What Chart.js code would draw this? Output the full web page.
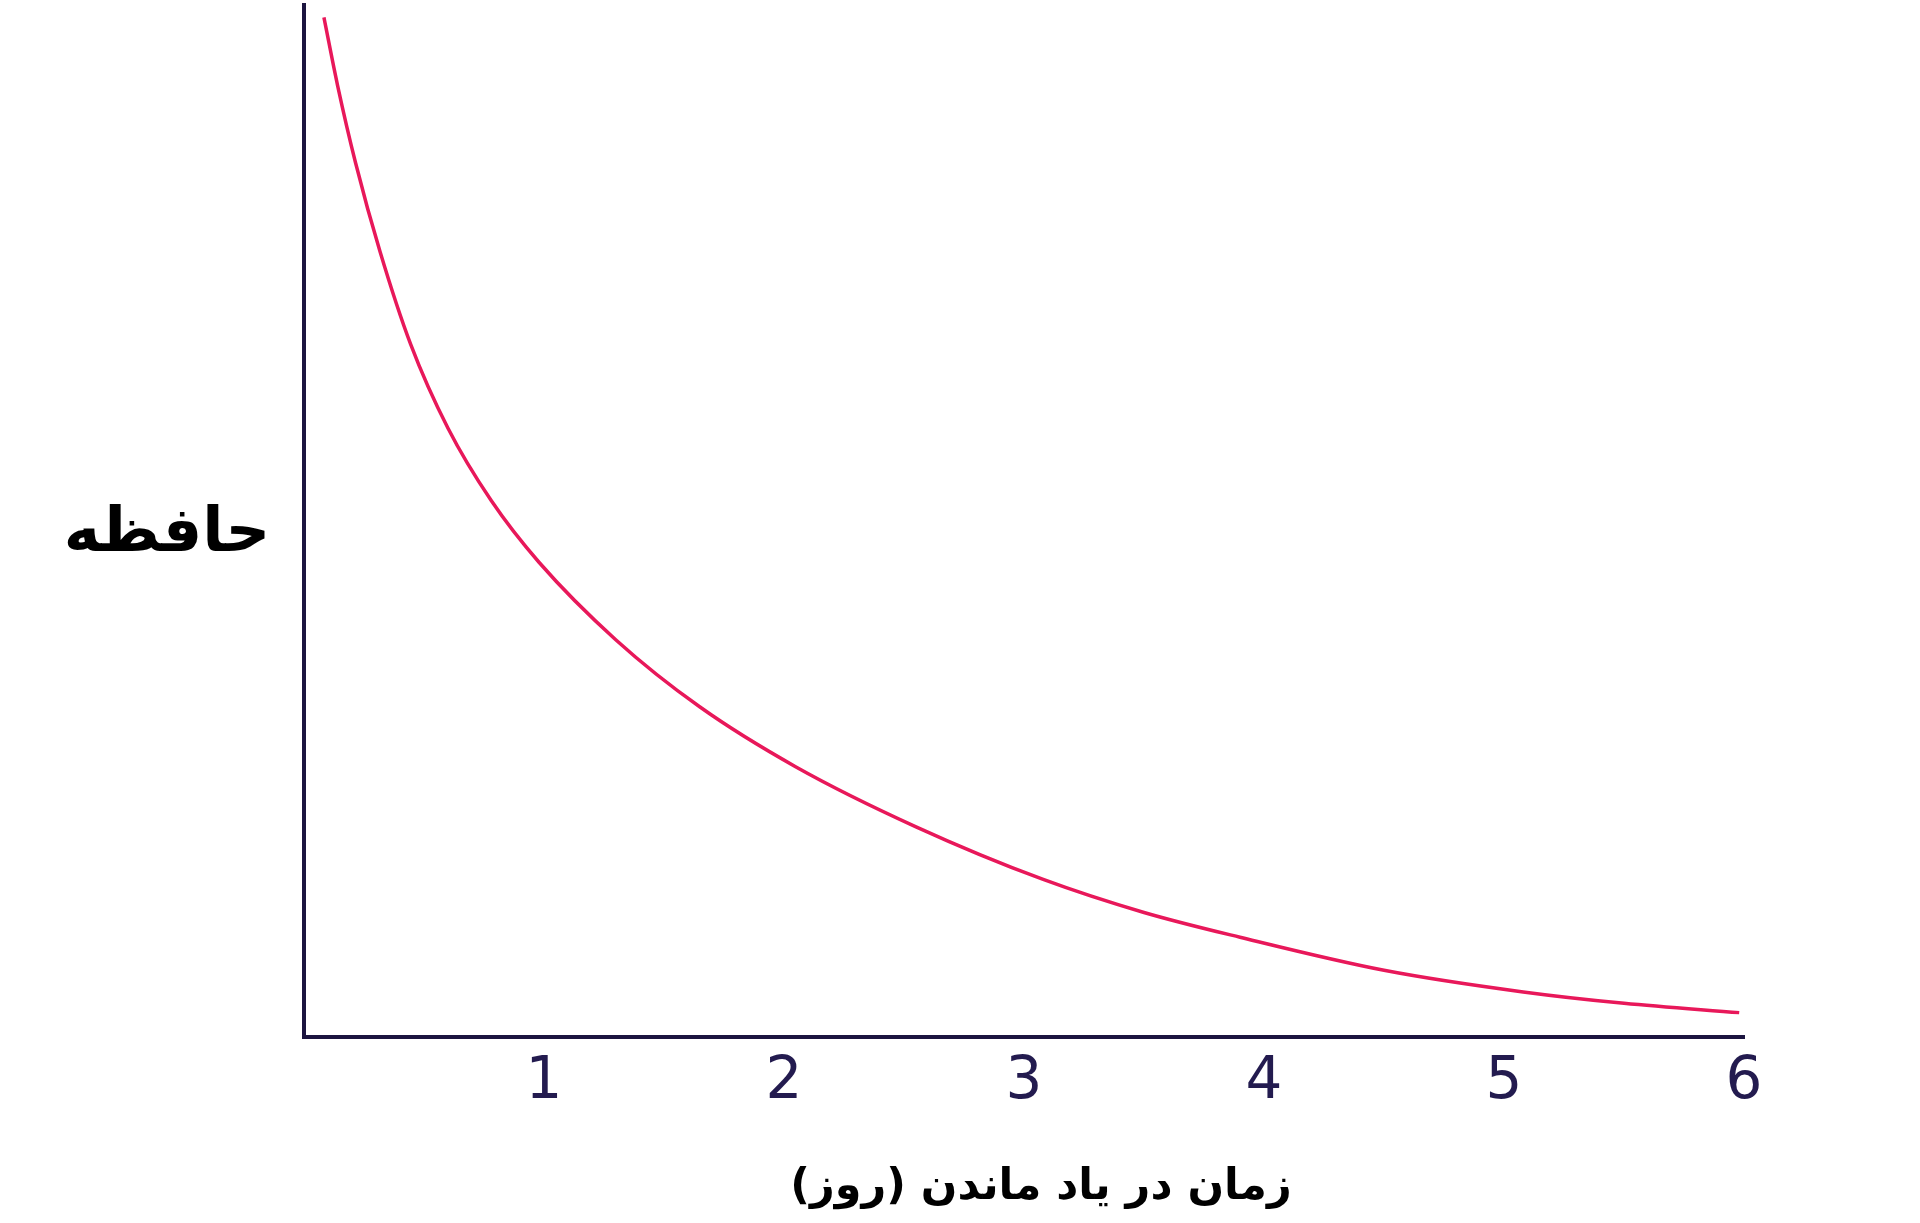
<!DOCTYPE html>
<html>
<head>
<meta charset="utf-8">
<script src="https://cdn.jsdelivr.net/npm/chart.js@4.4.1/dist/chart.umd.min.js"></script>
<style>
  html, body { margin: 0; padding: 0; background: #fff; }
  #wrap { width: 1920px; height: 1223px; }
  canvas { direction: rtl; }
</style>
</head>
<body>
<div id="wrap"><canvas id="myChart"></canvas></div>
<script>
'use strict';

// forgetting curve (memory as % of the axis height)
const days = [0.083, 0.14, 0.215, 0.317, 0.445, 0.6, 0.78, 0.98, 1.3, 1.65, 2.05, 2.55, 3.08, 3.5, 3.9, 4.5, 5.08, 5.5, 5.98];
const memory = [98.8, 92.2, 84.7, 76.1, 67.1, 59.0, 52.0, 46.0, 38.5, 32.0, 26.2, 20.4, 15.3, 12.1, 9.7, 6.5, 4.4, 3.3, 2.4];
const xTicks = [1, 2, 3, 4, 5, 6];
const yTitle = 'حافظه';
const xTitle = 'زمان در یاد ماندن (روز)';

const axisColor = '#1c1540';
const ctx = document.getElementById('myChart');

// both titles are drawn by hand: the y one is flat, not rotated
const titles = {
  id: 'titles',
  afterDraw(chart) {
    const c = chart.ctx;
    const area = chart.chartArea;
    c.save();
    c.direction = 'rtl';
    c.fillStyle = '#000';
    c.textAlign = 'center';
    c.textBaseline = 'middle';
    c.font = 'bold 62px "DejaVu Sans"';
    c.fillText(yTitle, area.left - 137, (area.top + area.bottom) / 2 + 14);
    c.font = 'bold 43px "DejaVu Sans"';
    c.fillText(xTitle, (area.left + area.right) / 2 + 17, area.bottom + 150);
    c.restore();
  }
};

new Chart(ctx, {
  type: 'line',
  data: {
    datasets: [{
      data: days.map((d, i) => ({ x: d, y: memory[i] })),
      borderColor: '#e8185a',
      borderWidth: 3.5,
      pointRadius: 0,
      fill: false,
      cubicInterpolationMode: 'monotone'
    }]
  },
  plugins: [titles],
  options: {
    responsive: true,
    maintainAspectRatio: false,
    animation: false,
    layout: {
      padding: { left: 296, right: 176, top: 5, bottom: 102 }
    },
    plugins: {
      legend: { display: false },
      tooltip: { enabled: false }
    },
    scales: {
      x: {
        type: 'linear',
        min: 0,
        max: 6,
        afterBuildTicks: (scale) => {
          scale.ticks = xTicks.map(v => ({ value: v }));
        },
        grid: { display: false },
        border: { display: true, color: axisColor, width: 4 },
        ticks: {
          color: '#231b4f',
          font: { family: 'DejaVu Sans', size: 58 },
          padding: 3,
          maxRotation: 0
        }
      },
      y: {
        min: 0,
        max: 100,
        grid: { display: false },
        border: { display: true, color: axisColor, width: 4 },
        ticks: { display: false }
      }
    }
  }
});
</script>
</body>
</html>
